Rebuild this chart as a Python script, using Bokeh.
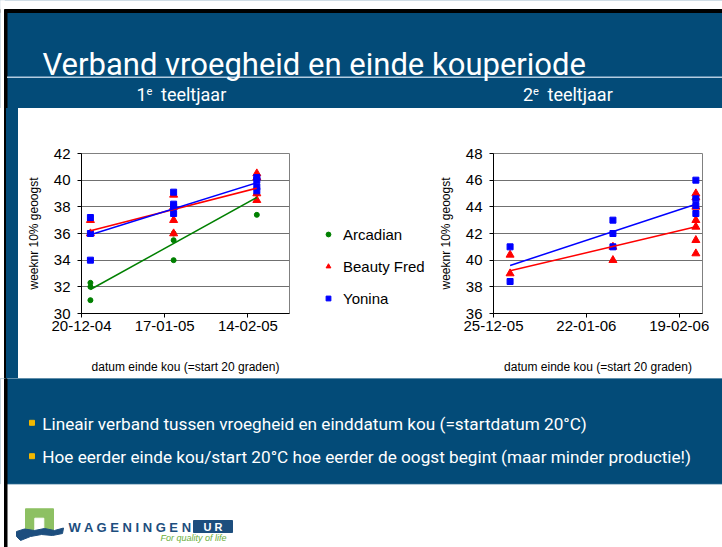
import pandas as pd
from bokeh.plotting import figure
from bokeh.layouts import column, row
from bokeh.models import (Range1d, FixedTicker, DatetimeTickFormatter, Legend,
                          LegendItem, ColumnDataSource, Div)
from bokeh.core.properties import value
from bokeh.embed import file_html
from bokeh.resources import INLINE

# ---------------- data ----------------
# 1e teeltjaar
y1_x_range = ["2004-12-20", "2005-02-28"]
y1_x_ticks = ["2004-12-20", "2005-01-17", "2005-02-14"]
y1_y_ticks = [30, 32, 34, 36, 38, 40, 42]

arc1_dates = ["2004-12-23", "2004-12-23", "2004-12-23",
              "2005-01-20", "2005-01-20", "2005-01-20",
              "2005-02-17", "2005-02-17", "2005-02-17"]
arc1_weeks = [32.3, 32.0, 31.0, 36.0, 35.5, 34.0, 37.4, 39.0, 39.4]

bf1_dates = ["2004-12-23", "2004-12-23",
             "2005-01-20", "2005-01-20", "2005-01-20", "2005-01-20",
             "2005-02-17", "2005-02-17", "2005-02-17", "2005-02-17"]
bf1_weeks = [37.0, 36.0, 38.9, 38.0, 37.0, 36.0, 40.5, 40.2, 39.0, 38.5]

yon1_dates = ["2004-12-23", "2004-12-23", "2004-12-23",
              "2005-01-20", "2005-01-20", "2005-01-20", "2005-01-20",
              "2005-02-17", "2005-02-17", "2005-02-17", "2005-02-17"]
yon1_weeks = [37.2, 36.0, 34.0, 39.1, 38.2, 38.0, 37.5, 40.2, 40.0, 39.5, 39.2]

trend1_dates = ["2004-12-23", "2005-02-17"]
arc1_trend = [31.8, 38.7]
bf1_trend = [36.2, 39.4]
yon1_trend = [35.9, 39.8]

# 2e teeltjaar
y2_x_range = ["2005-12-25", "2006-02-26"]
y2_x_ticks = ["2005-12-25", "2006-01-22", "2006-02-19"]
y2_y_ticks = [36, 38, 40, 42, 44, 46, 48]

bf2_dates = ["2005-12-30", "2005-12-30",
             "2006-01-30", "2006-01-30",
             "2006-02-24", "2006-02-24", "2006-02-24", "2006-02-24",
             "2006-02-24", "2006-02-24", "2006-02-24"]
bf2_weeks = [40.4, 39.0, 41.0, 40.0, 45.0, 44.7, 44.0, 43.0, 42.5, 41.5, 40.5]

yon2_dates = ["2005-12-30", "2005-12-30",
              "2006-01-30", "2006-01-30", "2006-01-30",
              "2006-02-24", "2006-02-24", "2006-02-24", "2006-02-24"]
yon2_weeks = [41.0, 38.4, 43.0, 42.0, 41.0, 46.0, 44.6, 44.1, 43.5]

trend2_dates = ["2005-12-30", "2006-02-24"]
bf2_trend = [39.2, 42.5]
yon2_trend = [39.6, 44.2]

series_names = ["Arcadian", "Beauty Fred", "Yonina"]
x_title = "datum einde kou (=start 20 graden)"
y_title = "weeknr 10% geoogst"
slide_title = "Verband vroegheid en einde kouperiode"
bullets = ["Lineair verband tussen vroegheid en einddatum kou (=startdatum 20\u00b0C)",
           "Hoe eerder einde kou/start 20\u00b0C hoe eerder de oogst begint (maar minder productie!)"]

# ---------------- style ----------------
BLUE_BG = "#034B78"
GREEN = "#008000"
RED = "#FF0000"
BLUE = "#0000FF"
SLIDE_FONT = "Roboto"
ARIAL = "Liberation Sans"
W = 722
BASE_SHIFT = 0.36   # compensation of the alphabetic baseline placement (fraction of font size)


def ms(d):
    return pd.Timestamp(d).value // 10**6


def deco_fig(width, height, bg):
    f = figure(width=width, height=height, x_range=Range1d(0, width), y_range=Range1d(height, 0),
               toolbar_location=None, output_backend="svg", min_border=0,
               x_axis_location=None, y_axis_location=None,
               background_fill_color=bg, border_fill_color=bg,
               outline_line_color=None)
    f.grid.visible = False
    return f


def left_border(f, height, top=0):
    f.quad(left=0, right=4, top=0, bottom=height, color="white")
    f.quad(left=4, right=6.5, top=top, bottom=height, color="black")


def label(f, x, baseline, txt, size, color="white", font=SLIDE_FONT, style="normal",
          align="left"):
    f.text(x=x, y=baseline - BASE_SHIFT * size, text=[txt], text_font=value(font),
           text_font_size=f"{size}px", text_font_style=style, text_color=color,
           text_baseline="alphabetic", text_align=align)


# ---------------- top band ----------------
top = deco_fig(W, 108, BLUE_BG)
top.quad(left=0, right=W, top=0, bottom=9, color="white")
top.quad(left=0, right=W, top=9, bottom=12, color="black")
left_border(top, 108, top=9)
top.segment(x0=6.5, y0=76.7, x1=W, y1=76.7, line_color="#B4CCE0", line_width=1.5)
label(top, 42, 75.5, slide_title, 31)
for x0, num in [(136, "1"), (522.5, "2")]:
    label(top, x0, 100, num, 18)
    label(top, x0 + 10, 94.5, "e", 11)
    label(top, x0 + 24.5, 100, "teeltjaar", 18)


# ---------------- charts ----------------
def make_chart(width, min_left, min_right, xr, xt, yt):
    p = figure(width=width, height=270, x_axis_type="datetime",
               x_range=Range1d(pd.Timestamp(xr[0]), pd.Timestamp(xr[1])),
               y_range=Range1d(yt[0], yt[-1]),
               toolbar_location=None, output_backend="svg",
               min_border_left=min_left, min_border_right=min_right,
               min_border_top=45, min_border_bottom=65,
               background_fill_color="white", border_fill_color="white",
               outline_line_color="#808080")
    p.xaxis.ticker = FixedTicker(ticks=[ms(d) for d in xt])
    fmt = "%d-%m-%y"
    p.xaxis.formatter = DatetimeTickFormatter(milliseconds=fmt, seconds=fmt, minsec=fmt,
                                              minutes=fmt, hourmin=fmt, hours=fmt, days=fmt,
                                              months=fmt, years=fmt)
    p.yaxis.ticker = FixedTicker(ticks=yt)
    p.xgrid.visible = False
    p.ygrid.grid_line_color = "#707070"
    p.ygrid.grid_line_width = 1
    for ax in (p.xaxis[0], p.yaxis[0]):
        ax.major_tick_out = 4
        ax.major_tick_in = 0
        ax.minor_tick_line_color = None
        ax.axis_line_color = "black"
        ax.major_tick_line_color = "black"
        ax.major_label_text_font = ARIAL
        ax.major_label_text_font_size = "15px"
        ax.major_label_text_color = "black"
        ax.axis_label_text_font = ARIAL
        ax.axis_label_text_font_size = "12px"
        ax.axis_label_text_font_style = "normal"
        ax.axis_label_text_color = "black"
    p.xaxis.axis_label = x_title
    p.yaxis.axis_label = y_title
    p.xaxis.major_label_standoff = 3
    p.yaxis.major_label_standoff = 7
    p.xaxis.axis_label_standoff = 26
    p.yaxis.axis_label_standoff = 10
    return p


def src(dates, vals):
    return ColumnDataSource(data=dict(x=pd.to_datetime(dates), y=vals))


STYLE = {"Arcadian": dict(marker="circle", size=5, color=GREEN),
         "Beauty Fred": dict(marker="triangle", size=8, color=RED),
         "Yonina": dict(marker="square", size=6, color=BLUE)}

p1 = make_chart(282, 63, 11, y1_x_range, y1_x_ticks, y1_y_ticks)
p1.scatter("x", "y", source=src(arc1_dates, arc1_weeks), **STYLE["Arcadian"])
p1.scatter("x", "y", source=src(bf1_dates, bf1_weeks), **STYLE["Beauty Fred"])
p1.scatter("x", "y", source=src(yon1_dates, yon1_weeks), **STYLE["Yonina"])
p1.line("x", "y", source=src(trend1_dates, arc1_trend), line_color=GREEN, line_width=1.5)
p1.line("x", "y", source=src(trend1_dates, bf1_trend), line_color=RED, line_width=1.5)
p1.line("x", "y", source=src(trend1_dates, yon1_trend), line_color=BLUE, line_width=1.5)

# legend panel of the first chart (legend proxies carry no visible data)
lf = figure(width=130, height=270, toolbar_location=None, output_backend="svg", min_border=0,
            x_axis_location=None, y_axis_location=None, x_range=Range1d(0, 1),
            y_range=Range1d(0, 1), background_fill_color="white", border_fill_color="white",
            outline_line_color=None)
lf.grid.visible = False
items = []
for name in series_names:
    r = lf.scatter(x=[float("nan")], y=[float("nan")], **STYLE[name])
    items.append(LegendItem(label=name, renderers=[r]))
legend = Legend(items=items, location=(22, 5), orientation="vertical",
                glyph_width=12, glyph_height=20, label_height=20, spacing=12,
                label_standoff=9, padding=0, margin=0,
                border_line_color=None, background_fill_alpha=0,
                label_text_font=ARIAL, label_text_font_size="15px",
                label_text_color="black")
lf.add_layout(legend, "center")

p2 = make_chart(292, 63, 20, y2_x_range, y2_x_ticks, y2_y_ticks)
p2.scatter("x", "y", source=src(bf2_dates, bf2_weeks), **STYLE["Beauty Fred"])
p2.scatter("x", "y", source=src(yon2_dates, yon2_weeks), **STYLE["Yonina"])
p2.line("x", "y", source=src(trend2_dates, bf2_trend), line_color=RED, line_width=1.5)
p2.line("x", "y", source=src(trend2_dates, yon2_trend), line_color=BLUE, line_width=1.5)

strip = Div(text="", width=18, height=270, margin=0,
            styles={"background": "linear-gradient(to right, white 0px, white 4px, black 4px, "
                                  "black 6.5px, #034B78 6.5px, #034B78 18px)"})

# ---------------- bottom band ----------------
bot = deco_fig(W, 169, "white")
bot.quad(left=0, right=W, top=0, bottom=105.3, color=BLUE_BG)
left_border(bot, 169)
for yb, txt in [(51.3, bullets[0]), (84.7, bullets[1])]:
    bot.quad(left=29, right=34, top=yb - 9.5, bottom=yb - 4.5, color="#F2B700")
    label(bot, 41.7, yb, txt, 17.2)

LOGO_BLUE = "#1D4E7E"
bot.quad(left=25, right=53, top=130.3, bottom=152, color="#8DC063")
bot.quad(left=34.3, right=43.3, top=139.7, bottom=152, color="white")
bot.patch(x=[16, 24, 34, 44, 54, 63, 62, 52, 41, 30, 20, 16],
          y=[153, 150.5, 152, 150, 152, 149.5, 155, 157, 156, 158, 162, 158],
          color=LOGO_BLUE)
label(bot, 68, 153.7, "W A G E N I N G E N", 13, color=LOGO_BLUE, font=ARIAL, style="bold")
bot.quad(left=193, right=232, top=142, bottom=154, color=LOGO_BLUE)
label(bot, 212.5, 152.3, "U R", 11, color="white", font=ARIAL, style="bold", align="center")
label(bot, 160, 163, "For quality of life", 9, color="#6AAE3A", font=ARIAL, style="italic")

layout = column(top, row(strip, p1, lf, p2, spacing=0), bot, spacing=0)
open("out.html", "w").write(file_html(layout, INLINE))
